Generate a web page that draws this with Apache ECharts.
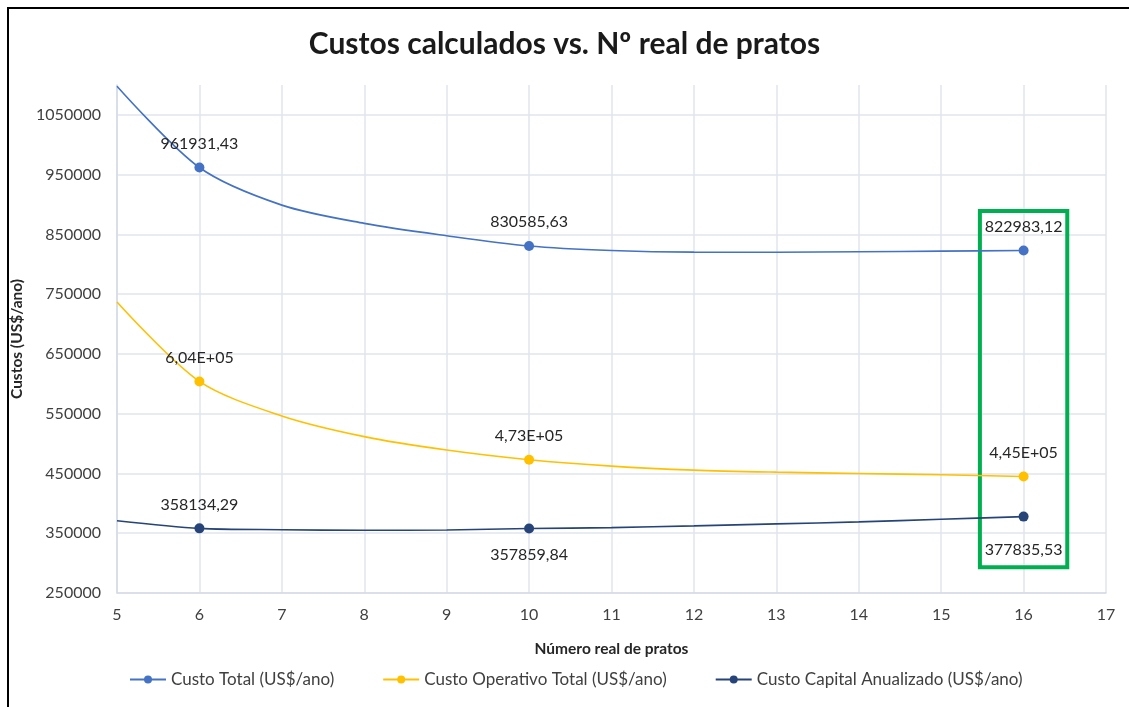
<!DOCTYPE html>
<html>
<head>
<meta charset="utf-8">
<script src="https://cdn.jsdelivr.net/npm/echarts@6/dist/echarts.min.js"></script>
<style>
  html, body { margin: 0; padding: 0; background: #fff; }
  #chart { width: 1129px; height: 707px; }
</style>
</head>
<body>
<div id="chart"></div>
<script>
// Number of plates at which each cost was calculated
const pointX = [6, 10, 16];
const custoTotal = [961931.43, 830585.63, 822983.12];
const custoOperativo = [604000, 473000, 445000];
const custoCapital = [358134.29, 357859.84, 377835.53];

// Smoothed trend of each cost, read at every whole number of plates
const curveX = [5, 6, 7, 8, 9, 10, 11, 12, 13, 14, 15, 16];
const totalCurve = [1098000, 961931.43, 899000, 868500, 847800, 830585.63, 823000, 820300, 820200, 821000, 822000, 822983.12];
const operativoCurve = [737000, 604000, 546300, 511700, 489200, 473000, 462300, 455600, 452200, 450000, 447800, 445000];
const capitalCurve = [371000, 358134.29, 355900, 355000, 355500, 357859.84, 359400, 362300, 365600, 369000, 373400, 377835.53];

// Highlighted region around the 16-plate design
const highlightX = [15.47, 16.53];
const highlightY = [292900, 889200];

const seriesNames = ['Custo Total (US$/ano)', 'Custo Operativo Total (US$/ano)', 'Custo Capital Anualizado (US$/ano)'];
const colors = ['#4472C4', '#FFC000', '#264478'];

const FONT = 'Lato';

function fmtDecimal(v) {
  return v.toFixed(2).replace('.', ',');
}
function fmtSci(v) {
  const e = Math.floor(Math.log10(Math.abs(v)));
  const m = v / Math.pow(10, e);
  return m.toFixed(2).replace('.', ',') + 'E+' + String(e).padStart(2, '0');
}

function pairs(xs, ys) {
  return xs.map((x, i) => [x, ys[i]]);
}

function curveSeries(name, color, ys) {
  return {
    name: name,
    type: 'line',
    data: pairs(curveX, ys),
    smooth: 0.3,
    symbol: 'circle',
    showSymbol: false,
    silent: true,
    lineStyle: { color: color, width: 1.6 },
    itemStyle: { color: color },
    z: 2
  };
}

function pointSeries(name, color, ys, fmt, positions, extra) {
  return Object.assign({
    name: name,
    type: 'scatter',
    symbol: 'circle',
    symbolSize: 10,
    itemStyle: { color: color, opacity: 1 },
    data: pointX.map((x, i) => ({
      value: [x, ys[i]],
      label: positions[i]
    })),
    label: {
      show: true,
      position: 'top',
      distance: 11,
      color: '#262626',
      fontFamily: FONT,
      fontSize: 16,
      formatter: (p) => fmt(p.value[1])
    },
    z: 3
  }, extra || {});
}

const labelAbove = { position: 'top', distance: 11 };
const labelBelow = { position: 'bottom', distance: 13 };
const labelBelowFar = { position: 'bottom', distance: 20 };

const chart = echarts.init(document.getElementById('chart'));

chart.setOption({
  animation: false,
  backgroundColor: '#fff',
  title: {
    text: 'Custos calculados vs. Nº real de pratos',
    left: 'center',
    top: 24,
    textStyle: { fontFamily: FONT, fontSize: 30, fontWeight: 'bold', color: '#1a1a1a' }
  },
  graphic: [{
    type: 'rect',
    shape: { x: 8, y: 8, width: 1200, height: 800 },
    style: { fill: 'none', stroke: '#000', lineWidth: 2 },
    silent: true
  }],
  legend: {
    bottom: 14,
    left: 124,
    itemGap: 48,
    itemWidth: 36,
    itemHeight: 10,
    data: seriesNames,
    textStyle: { fontFamily: FONT, fontSize: 17, color: '#404040' }
  },
  grid: { left: 117, right: 23, top: 85, bottom: 114, containLabel: false },
  xAxis: {
    type: 'value',
    min: 5,
    max: 17,
    interval: 1,
    name: 'Número real de pratos',
    nameLocation: 'middle',
    nameGap: 48,
    nameTextStyle: { fontFamily: FONT, fontSize: 15.5, fontWeight: 'bold', color: '#262626' },
    axisLine: { show: true, lineStyle: { color: '#d5dbe6', width: 1.5 } },
    axisTick: { show: false },
    axisLabel: { fontFamily: FONT, fontSize: 16, color: '#404040', margin: 14 },
    splitLine: { show: true, lineStyle: { color: '#e1e5ee', width: 1.5 } }
  },
  yAxis: {
    type: 'value',
    min: 250000,
    max: 1100000,
    interval: 100000,
    name: 'Custos (US$/ano)',
    nameLocation: 'middle',
    nameGap: 82,
    nameTextStyle: { fontFamily: FONT, fontSize: 15.5, fontWeight: 'bold', color: '#262626' },
    axisLine: { show: true, lineStyle: { color: '#d5dbe6', width: 1.5 } },
    axisTick: { show: false },
    axisLabel: {
      fontFamily: FONT, fontSize: 16, color: '#404040', margin: 16, showMaxLabel: false,
      formatter: (v) => String(v)
    },
    splitLine: { show: true, showMaxLine: false, lineStyle: { color: '#e1e5ee', width: 1.5 } }
  },
  series: [
    curveSeries(seriesNames[0], colors[0], totalCurve),
    curveSeries(seriesNames[1], colors[1], operativoCurve),
    curveSeries(seriesNames[2], colors[2], capitalCurve),
    pointSeries(seriesNames[0], colors[0], custoTotal, fmtDecimal, [labelAbove, labelAbove, labelAbove]),
    pointSeries(seriesNames[1], colors[1], custoOperativo, fmtSci, [labelAbove, labelAbove, labelAbove]),
    pointSeries(seriesNames[2], colors[2], custoCapital, fmtDecimal, [labelAbove, labelBelow, labelBelowFar], {
      markArea: {
        silent: true,
        itemStyle: { color: 'rgba(0,0,0,0)', borderColor: '#00B050', borderWidth: 4 },
        data: [[
          { coord: [highlightX[0], highlightY[0]] },
          { coord: [highlightX[1], highlightY[1]] }
        ]]
      }
    })
  ]
});
</script>
</body>
</html>
